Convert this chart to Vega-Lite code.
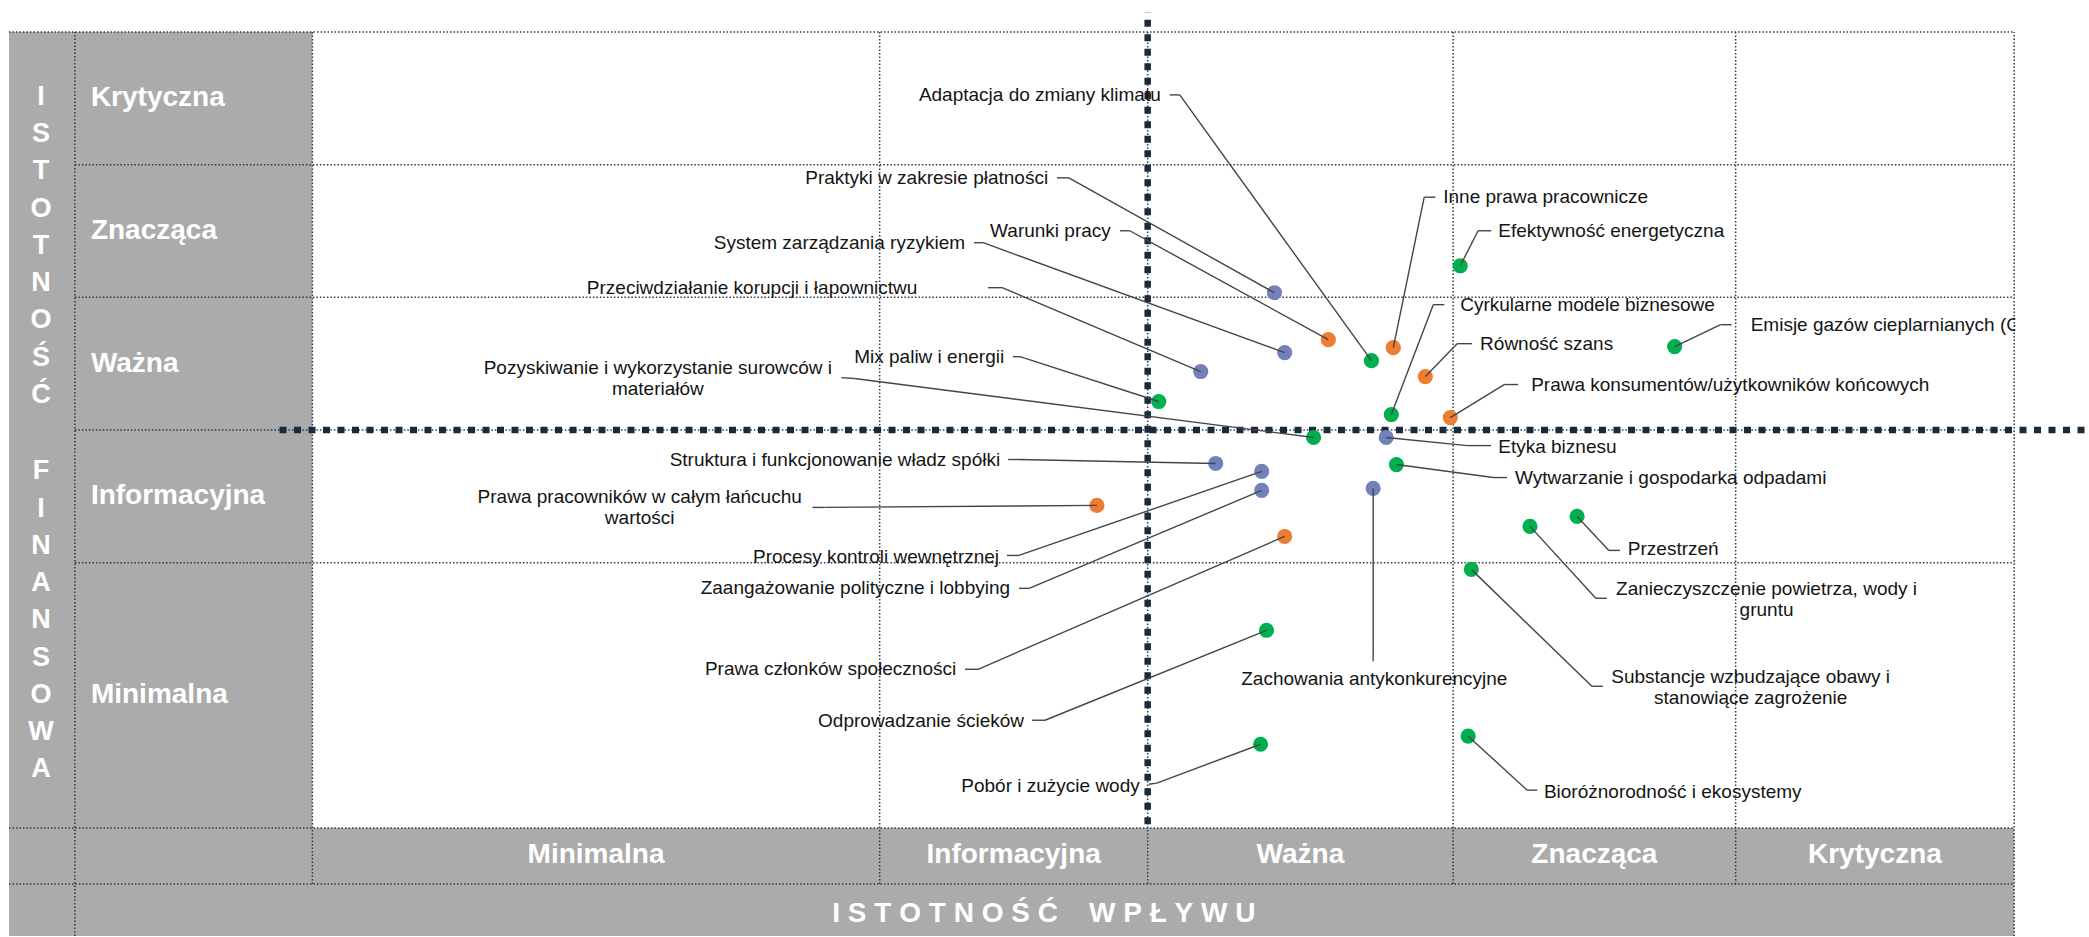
{
  "$schema": "https://vega.github.io/schema/vega-lite/v6.json",
  "width": 2089,
  "height": 937,
  "autosize": {"type": "fit", "contains": "padding"},
  "padding": 0,
  "background": "#ffffff",
  "config": {"view": {"stroke": null}},
  "datasets": {
    "panels": [
      {"x1": -1.0698, "x2": 6, "y1": -0.8131, "y2": 6}
    ],
    "plotArea": [
      {"x1": 0, "x2": 6, "y1": 0, "y2": 6}
    ],
    "grid": [
      {"x1": -1.0698, "x2": 6, "y1": 6, "y2": 6},
      {"x1": -0.8375, "x2": 6, "y1": 5, "y2": 5},
      {"x1": -0.8375, "x2": 6, "y1": 4, "y2": 4},
      {"x1": -0.8375, "x2": 6, "y1": 3, "y2": 3},
      {"x1": -0.8375, "x2": 6, "y1": 2, "y2": 2},
      {"x1": -1.0698, "x2": 6, "y1": 0, "y2": 0},
      {"x1": -1.0698, "x2": 6, "y1": -0.4216, "y2": -0.4216},
      {"x1": -0.8375, "x2": -0.8375, "y1": -0.8131, "y2": 6},
      {"x1": 0, "x2": 0, "y1": -0.4216, "y2": 6},
      {"x1": 2, "x2": 2, "y1": -0.4216, "y2": 6},
      {"x1": 2.945, "x2": 2.945, "y1": -0.4216, "y2": 6},
      {"x1": 4.022, "x2": 4.022, "y1": -0.4216, "y2": 6},
      {"x1": 5.018, "x2": 5.018, "y1": -0.4216, "y2": 6},
      {"x1": 6, "x2": 6, "y1": -0.8131, "y2": 6}
    ],
    "thresholds": [
      {"x1": 2.945, "x2": 2.945, "y1": 0.03, "y2": 6.151},
      {"x1": -0.116, "x2": 6.2498, "y1": 3, "y2": 3}
    ],
    "mask": [
      {"x1": 6.004, "x2": 6.2498, "y1": 3.2, "y2": 6.2411}
    ],
    "financialLevels": [
      {"level": "Krytyczna", "pos": 5.5},
      {"level": "Znacząca", "pos": 4.5},
      {"level": "Ważna", "pos": 3.5},
      {"level": "Informacyjna", "pos": 2.5},
      {"level": "Minimalna", "pos": 1.0}
    ],
    "impactLevels": [
      {"level": "Minimalna", "pos": 1.0},
      {"level": "Informacyjna", "pos": 2.4725},
      {"level": "Ważna", "pos": 3.4835},
      {"level": "Znacząca", "pos": 4.52},
      {"level": "Krytyczna", "pos": 5.509}
    ],
    "impactTitle": [{"title": "I\u00a0S\u00a0T\u00a0O\u00a0T\u00a0N\u00a0O\u00a0Ś\u00a0Ć\u00a0\u00a0\u00a0\u00a0W\u00a0P\u00a0Ł\u00a0Y\u00a0W\u00a0U"}],
    "financialTitle": [
      {"title": "I\nS\nT\nO\nT\nN\nO\nŚ\nĆ", "pos": 5.511},
      {"title": "F\nI\nN\nA\nN\nS\nO\nW\nA", "pos": 2.688}
    ],
    "items": [
      {"topic": "Adaptacja do zmiany klimatu", "group": "Środowisko", "impact": 3.734, "financial": 3.523, "label_x": 2.991, "label_y": 5.526, "end_x": 3.023, "end_y": 5.526, "elbow_x": 3.058, "elbow_y": 5.526},
      {"topic": "Praktyki w zakresie płatności", "group": "Ład korporacyjny", "impact": 3.392, "financial": 4.035, "label_x": 2.594, "label_y": 4.901, "end_x": 2.625, "end_y": 4.901, "elbow_x": 2.667, "elbow_y": 4.901},
      {"topic": "Warunki pracy", "group": "Społeczne", "impact": 3.582, "financial": 3.681, "label_x": 2.815, "label_y": 4.502, "end_x": 2.847, "end_y": 4.502, "elbow_x": 2.882, "elbow_y": 4.502},
      {"topic": "System zarządzania ryzykiem", "group": "Ład korporacyjny", "impact": 3.428, "financial": 3.584, "label_x": 2.301, "label_y": 4.412, "end_x": 2.333, "end_y": 4.412, "elbow_x": 2.365, "elbow_y": 4.412},
      {"topic": "Przeciwdziałanie korupcji i łapownictwu", "group": "Ład korporacyjny", "impact": 3.132, "financial": 3.441, "label_x": 2.133, "label_y": 4.073, "end_x": 2.382, "end_y": 4.073, "elbow_x": 2.432, "elbow_y": 4.073},
      {"topic": "Mix paliw i energii", "group": "Środowisko", "impact": 2.984, "financial": 3.215, "label_x": 2.439, "label_y": 3.553, "end_x": 2.47, "end_y": 3.553, "elbow_x": 2.495, "elbow_y": 3.553},
      {"topic": "Pozyskiwanie i wykorzystanie surowców i\nmateriałów", "group": "Środowisko", "impact": 3.53, "financial": 2.944, "label_x": 1.218, "label_y": 3.471, "end_x": 1.865, "end_y": 3.395, "elbow_x": 1.911, "elbow_y": 3.388},
      {"topic": "Inne prawa pracownicze", "group": "Społeczne", "impact": 3.811, "financial": 3.621, "label_x": 3.987, "label_y": 4.755, "end_x": 3.959, "end_y": 4.755, "elbow_x": 3.92, "elbow_y": 4.755},
      {"topic": "Efektywność energetyczna", "group": "Środowisko", "impact": 4.047, "financial": 4.238, "label_x": 4.181, "label_y": 4.502, "end_x": 4.156, "end_y": 4.502, "elbow_x": 4.11, "elbow_y": 4.502},
      {"topic": "Cyrkularne modele biznesowe", "group": "Środowisko", "impact": 3.804, "financial": 3.117, "label_x": 4.047, "label_y": 3.945, "end_x": 3.991, "end_y": 3.945, "elbow_x": 3.952, "elbow_y": 3.945},
      {"topic": "Równość szans", "group": "Społeczne", "impact": 3.924, "financial": 3.403, "label_x": 4.117, "label_y": 3.651, "end_x": 4.089, "end_y": 3.651, "elbow_x": 4.036, "elbow_y": 3.651},
      {"topic": "Emisje gazów cieplarnianych (GHG)", "group": "Środowisko", "impact": 4.803, "financial": 3.629, "label_x": 5.071, "label_y": 3.794, "end_x": 5.004, "end_y": 3.794, "elbow_x": 4.965, "elbow_y": 3.794},
      {"topic": "Prawa konsumentów/użytkowników końcowych", "group": "Społeczne", "impact": 4.012, "financial": 3.094, "label_x": 4.297, "label_y": 3.343, "end_x": 4.251, "end_y": 3.343, "elbow_x": 4.202, "elbow_y": 3.343},
      {"topic": "Etyka biznesu", "group": "Ład korporacyjny", "impact": 3.786, "financial": 2.944, "label_x": 4.181, "label_y": 2.876, "end_x": 4.156, "end_y": 2.883, "elbow_x": 4.072, "elbow_y": 2.883},
      {"topic": "Wytwarzanie i gospodarka odpadami", "group": "Środowisko", "impact": 3.822, "financial": 2.74, "label_x": 4.24, "label_y": 2.642, "end_x": 4.212, "end_y": 2.642, "elbow_x": 4.163, "elbow_y": 2.642},
      {"topic": "Struktura i funkcjonowanie władz spółki", "group": "Ład korporacyjny", "impact": 3.185, "financial": 2.748, "label_x": 2.425, "label_y": 2.778, "end_x": 2.453, "end_y": 2.778, "elbow_x": 2.488, "elbow_y": 2.778},
      {"topic": "Prawa pracowników w całym łańcuchu\nwartości", "group": "Społeczne", "impact": 2.766, "financial": 2.432, "label_x": 1.154, "label_y": 2.492, "end_x": 1.763, "end_y": 2.417, "elbow_x": 1.805, "elbow_y": 2.417},
      {"topic": "Procesy kontroli wewnętrznej", "group": "Ład korporacyjny", "impact": 3.347, "financial": 2.688, "label_x": 2.421, "label_y": 2.045, "end_x": 2.449, "end_y": 2.055, "elbow_x": 2.491, "elbow_y": 2.055},
      {"topic": "Zaangażowanie polityczne i lobbying", "group": "Ład korporacyjny", "impact": 3.347, "financial": 2.545, "label_x": 2.46, "label_y": 1.807, "end_x": 2.491, "end_y": 1.807, "elbow_x": 2.527, "elbow_y": 1.807},
      {"topic": "Prawa członków społeczności", "group": "Społeczne", "impact": 3.428, "financial": 2.198, "label_x": 2.27, "label_y": 1.197, "end_x": 2.301, "end_y": 1.197, "elbow_x": 2.347, "elbow_y": 1.197},
      {"topic": "Odprowadzanie ścieków", "group": "Środowisko", "impact": 3.364, "financial": 1.491, "label_x": 2.509, "label_y": 0.806, "end_x": 2.537, "end_y": 0.813, "elbow_x": 2.583, "elbow_y": 0.813},
      {"topic": "Pobór i zużycie wody", "group": "Środowisko", "impact": 3.343, "financial": 0.632, "label_x": 2.917, "label_y": 0.316, "end_x": 2.949, "end_y": 0.331, "elbow_x": 2.977, "elbow_y": 0.339},
      {"topic": "Zachowania antykonkurencyjne", "group": "Ład korporacyjny", "impact": 3.74, "financial": 2.56, "label_x": 3.744, "label_y": 1.122, "end_x": 3.74, "end_y": 1.257, "elbow_x": 3.74, "elbow_y": 1.4},
      {"topic": "Przestrzeń", "group": "Środowisko", "impact": 4.459, "financial": 2.349, "label_x": 4.638, "label_y": 2.1, "end_x": 4.61, "end_y": 2.093, "elbow_x": 4.571, "elbow_y": 2.093},
      {"topic": "Zanieczyszczenie powietrza, wody i\ngruntu", "group": "Środowisko", "impact": 4.293, "financial": 2.274, "label_x": 5.127, "label_y": 1.799, "end_x": 4.564, "end_y": 1.732, "elbow_x": 4.525, "elbow_y": 1.732},
      {"topic": "Substancje wzbudzające obawy i\nstanowiące zagrożenie", "group": "Środowisko", "impact": 4.086, "financial": 1.95, "label_x": 5.071, "label_y": 1.137, "end_x": 4.55, "end_y": 1.069, "elbow_x": 4.511, "elbow_y": 1.069},
      {"topic": "Bioróżnorodność i ekosystemy", "group": "Środowisko", "impact": 4.075, "financial": 0.693, "label_x": 4.342, "label_y": 0.271, "end_x": 4.318, "end_y": 0.286, "elbow_x": 4.283, "elbow_y": 0.286}
    ]
  },
  "layer": [
    {
      "data": {"name": "panels"},
      "mark": {"type": "rect", "color": "#ababab"},
      "encoding": {
        "x": {"field": "x1", "type": "quantitative", "scale": {"domain": [-1.1015, 6.2498], "nice": false, "zero": false}, "axis": null},
        "x2": {"field": "x2"},
        "y": {"field": "y1", "type": "quantitative", "scale": {"domain": [-0.8131, 6.2411], "nice": false, "zero": false}, "axis": null},
        "y2": {"field": "y2"}
      }
    },
    {
      "data": {"name": "plotArea"},
      "mark": {"type": "rect", "color": "#ffffff"},
      "encoding": {
        "x": {"field": "x1", "type": "quantitative", "scale": {"domain": [-1.1015, 6.2498], "nice": false, "zero": false}, "axis": null},
        "x2": {"field": "x2"},
        "y": {"field": "y1", "type": "quantitative", "scale": {"domain": [-0.8131, 6.2411], "nice": false, "zero": false}, "axis": null},
        "y2": {"field": "y2"}
      }
    },
    {
      "data": {"name": "grid"},
      "mark": {"type": "rule", "color": "#2b3a4b", "strokeWidth": 1.5, "strokeDash": [1.5, 2]},
      "encoding": {
        "x": {"field": "x1", "type": "quantitative", "scale": {"domain": [-1.1015, 6.2498], "nice": false, "zero": false}, "axis": null},
        "x2": {"field": "x2"},
        "y": {"field": "y1", "type": "quantitative", "scale": {"domain": [-0.8131, 6.2411], "nice": false, "zero": false}, "axis": null},
        "y2": {"field": "y2"}
      }
    },
    {
      "data": {"name": "thresholds"},
      "mark": {"type": "rule", "color": "#1b2a3a", "strokeWidth": 6.5, "strokeDash": [7, 7.5]},
      "encoding": {
        "x": {"field": "x1", "type": "quantitative", "scale": {"domain": [-1.1015, 6.2498], "nice": false, "zero": false}, "axis": null},
        "x2": {"field": "x2"},
        "y": {"field": "y1", "type": "quantitative", "scale": {"domain": [-0.8131, 6.2411], "nice": false, "zero": false}, "axis": null},
        "y2": {"field": "y2"}
      }
    },
    {
      "data": {"name": "items"},
      "mark": {"type": "circle", "size": 230, "opacity": 1},
      "encoding": {
        "x": {"field": "impact", "type": "quantitative", "scale": {"domain": [-1.1015, 6.2498], "nice": false, "zero": false}, "axis": null},
        "y": {"field": "financial", "type": "quantitative", "scale": {"domain": [-0.8131, 6.2411], "nice": false, "zero": false}, "axis": null},
        "color": {"field": "group", "type": "nominal", "scale": {"domain": ["Środowisko", "Społeczne", "Ład korporacyjny"], "range": ["#00b050", "#ee7d33", "#7381bb"]}, "legend": null}
      }
    },
    {
      "data": {"name": "items"},
      "mark": {"type": "rule", "color": "#454545", "strokeWidth": 1.4},
      "encoding": {
        "x": {"field": "impact", "type": "quantitative", "scale": {"domain": [-1.1015, 6.2498], "nice": false, "zero": false}, "axis": null},
        "y": {"field": "financial", "type": "quantitative", "scale": {"domain": [-0.8131, 6.2411], "nice": false, "zero": false}, "axis": null},
        "x2": {"field": "elbow_x"},
        "y2": {"field": "elbow_y"}
      }
    },
    {
      "data": {"name": "items"},
      "mark": {"type": "rule", "color": "#454545", "strokeWidth": 1.4},
      "encoding": {
        "x": {"field": "elbow_x", "type": "quantitative", "scale": {"domain": [-1.1015, 6.2498], "nice": false, "zero": false}, "axis": null},
        "y": {"field": "elbow_y", "type": "quantitative", "scale": {"domain": [-0.8131, 6.2411], "nice": false, "zero": false}, "axis": null},
        "x2": {"field": "end_x"},
        "y2": {"field": "end_y"}
      }
    },
    {
      "data": {"name": "items"},
      "transform": [{"filter": "!(indexof(datum.topic, '\\n') >= 0 || abs(datum.end_x - datum.impact) < 0.05) && datum.end_x < datum.impact"}],
      "mark": {"type": "text", "align": "right", "baseline": "middle", "font": "Liberation Sans", "fontSize": 19, "color": "#141414"},
      "encoding": {
        "x": {"field": "label_x", "type": "quantitative", "scale": {"domain": [-1.1015, 6.2498], "nice": false, "zero": false}, "axis": null},
        "y": {"field": "label_y", "type": "quantitative", "scale": {"domain": [-0.8131, 6.2411], "nice": false, "zero": false}, "axis": null},
        "text": {"field": "topic"}
      }
    },
    {
      "data": {"name": "items"},
      "transform": [{"filter": "!(indexof(datum.topic, '\\n') >= 0 || abs(datum.end_x - datum.impact) < 0.05) && datum.end_x > datum.impact"}],
      "mark": {"type": "text", "align": "left", "baseline": "middle", "font": "Liberation Sans", "fontSize": 19, "color": "#141414"},
      "encoding": {
        "x": {"field": "label_x", "type": "quantitative", "scale": {"domain": [-1.1015, 6.2498], "nice": false, "zero": false}, "axis": null},
        "y": {"field": "label_y", "type": "quantitative", "scale": {"domain": [-0.8131, 6.2411], "nice": false, "zero": false}, "axis": null},
        "text": {"field": "topic"}
      }
    },
    {
      "data": {"name": "items"},
      "transform": [{"filter": "indexof(datum.topic, '\\n') >= 0 || abs(datum.end_x - datum.impact) < 0.05"}],
      "mark": {"type": "text", "align": "center", "baseline": "middle", "lineBreak": "\n", "lineHeight": 21, "font": "Liberation Sans", "fontSize": 19, "color": "#141414"},
      "encoding": {
        "x": {"field": "label_x", "type": "quantitative", "scale": {"domain": [-1.1015, 6.2498], "nice": false, "zero": false}, "axis": null},
        "y": {"field": "label_y", "type": "quantitative", "scale": {"domain": [-0.8131, 6.2411], "nice": false, "zero": false}, "axis": null},
        "text": {"field": "topic"}
      }
    },
    {
      "data": {"name": "mask"},
      "mark": {"type": "rect", "color": "#ffffff"},
      "encoding": {
        "x": {"field": "x1", "type": "quantitative", "scale": {"domain": [-1.1015, 6.2498], "nice": false, "zero": false}, "axis": null},
        "x2": {"field": "x2"},
        "y": {"field": "y1", "type": "quantitative", "scale": {"domain": [-0.8131, 6.2411], "nice": false, "zero": false}, "axis": null},
        "y2": {"field": "y2"}
      }
    },
    {
      "data": {"name": "financialLevels"},
      "mark": {"type": "text", "align": "left", "baseline": "middle", "font": "Liberation Sans", "fontSize": 28, "fontWeight": "bold", "color": "#ffffff"},
      "encoding": {
        "x": {"datum": -0.781, "type": "quantitative", "scale": {"domain": [-1.1015, 6.2498], "nice": false, "zero": false}, "axis": null},
        "y": {"field": "pos", "type": "quantitative", "scale": {"domain": [-0.8131, 6.2411], "nice": false, "zero": false}, "axis": null},
        "text": {"field": "level"}
      }
    },
    {
      "data": {"name": "impactLevels"},
      "mark": {"type": "text", "align": "center", "baseline": "middle", "font": "Liberation Sans", "fontSize": 28, "fontWeight": "bold", "color": "#ffffff"},
      "encoding": {
        "x": {"field": "pos", "type": "quantitative", "scale": {"domain": [-1.1015, 6.2498], "nice": false, "zero": false}, "axis": null},
        "y": {"datum": -0.205, "type": "quantitative", "scale": {"domain": [-0.8131, 6.2411], "nice": false, "zero": false}, "axis": null},
        "text": {"field": "level"}
      }
    },
    {
      "data": {"name": "impactTitle"},
      "mark": {"type": "text", "align": "center", "baseline": "middle", "font": "Liberation Sans", "fontSize": 28, "fontWeight": "bold", "color": "#ffffff"},
      "encoding": {
        "x": {"datum": 2.579, "type": "quantitative", "scale": {"domain": [-1.1015, 6.2498], "nice": false, "zero": false}, "axis": null},
        "y": {"datum": -0.647, "type": "quantitative", "scale": {"domain": [-0.8131, 6.2411], "nice": false, "zero": false}, "axis": null},
        "text": {"field": "title"}
      }
    },
    {
      "data": {"name": "financialTitle"},
      "mark": {"type": "text", "align": "center", "baseline": "middle", "lineBreak": "\n", "lineHeight": 37.25, "font": "Liberation Sans", "fontSize": 27, "fontWeight": "bold", "color": "#ffffff"},
      "encoding": {
        "x": {"datum": -0.957, "type": "quantitative", "scale": {"domain": [-1.1015, 6.2498], "nice": false, "zero": false}, "axis": null},
        "y": {"field": "pos", "type": "quantitative", "scale": {"domain": [-0.8131, 6.2411], "nice": false, "zero": false}, "axis": null},
        "text": {"field": "title"}
      }
    }
  ]
}
